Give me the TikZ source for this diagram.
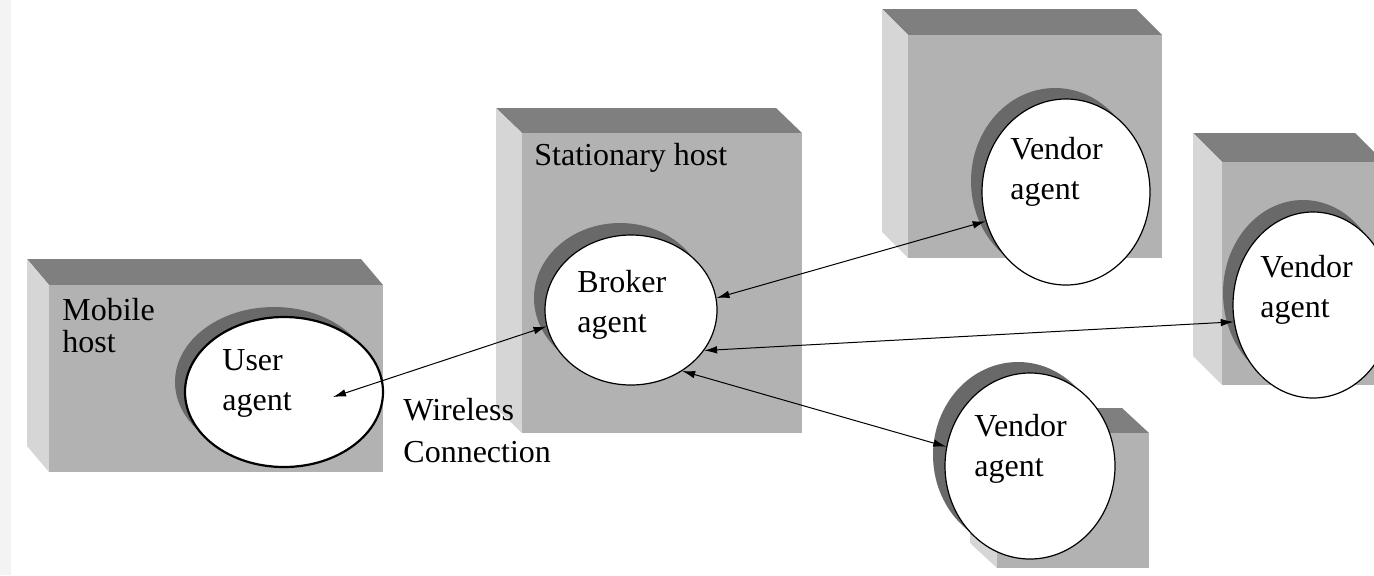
\documentclass[tikz,border=0pt]{standalone}
\usepackage{fontspec}
\setmainfont{Liberation Serif}
\usetikzlibrary{shapes.geometric,arrows.meta}
\definecolor{topface}{HTML}{7F7F7F}
\definecolor{frontface}{HTML}{B2B2B2}
\definecolor{sideface}{HTML}{D6D6D6}
\definecolor{holeshade}{HTML}{696969}
\definecolor{edgestrip}{HTML}{F3F3F3}
% #1 x1, #2 y1, #3 x2, #4 y2 (front face), #5 dx, #6 dy (depth)
\newcommand\hostcube[6]{%
  \fill[topface] (#1-#5,#2-#6) -- (#3-#5,#2-#6) -- (#3,#2) -- (#1,#2) -- cycle;
  \fill[sideface] (#1-#5,#2-#6) -- (#1,#2) -- (#1,#4) -- (#1-#5,#4-#6) -- cycle;
  \fill[frontface] (#1,#2) rectangle (#3,#4);
}
\begin{document}
\begin{tikzpicture}[x=0.5pt, y=-0.5pt,
  font=\fontsize{16}{20}\selectfont,
  hole/.style={ellipse, fill=white, draw=black, line width=0.6pt, inner sep=0pt},
  holeshadow/.style={ellipse, fill=holeshade, inner sep=0pt, outer sep=0pt},
  lbl/.style={anchor=west, align=left, inner sep=0pt},
  link/.style={arrows={Latex[length=6.5pt,width=3.8pt]-Latex[length=6.5pt,width=3.8pt]}, line width=0.5pt}]
\useasboundingbox (0,0) rectangle (1374,575);
\fill[white] (0,0) rectangle (1374,575);
\fill[edgestrip] (0,0) rectangle (11,575);

% hosts
\hostcube{49}{285}{383}{472}{22}{26}
\hostcube{522}{133}{802}{433}{26}{25}
\hostcube{908}{35}{1162}{258}{26}{26}
\hostcube{1222}{162}{1384}{385}{29}{29}
\hostcube{997}{433}{1149}{568}{27}{25}

% agents
\node[holeshadow, minimum width=99pt, minimum height=75pt] (userSh) at (274,382) {};
\node[hole, line width=1.1pt, minimum width=99pt, minimum height=75pt] (user) at (284,392) {};

\node[holeshadow, minimum width=86pt, minimum height=75pt] (brokerSh) at (620,298) {};
\node[hole, minimum width=86pt, minimum height=75pt] (broker) at (631,310) {};

\node[holeshadow, minimum width=84pt, minimum height=93pt] (vendASh) at (1055,181) {};
\node[hole, minimum width=84pt, minimum height=93pt] (vendA) at (1066,192) {};

\node[holeshadow, minimum width=80pt, minimum height=93pt] (vendBSh) at (1303,293) {};
\node[hole, minimum width=80pt, minimum height=93pt] (vendB) at (1313,305) {};

\node[holeshadow, minimum width=85pt, minimum height=93pt] (vendCSh) at (1018,455) {};
\node[hole, minimum width=85pt, minimum height=93pt] (vendC) at (1030,466) {};

% labels
\node[lbl, font=\fontsize{16}{16}\selectfont] (mobileLbl) at (62,326) {Mobile\\host};
\node[lbl] (statLbl) at (534,158) {Stationary host};
\node[lbl] (userLbl) at (222,383) {User\\agent};
\node[lbl] (brokerLbl) at (577,305) {Broker\\agent};
\node[lbl] (vendALbl) at (1010,172) {Vendor\\agent};
\node[lbl] (vendBLbl) at (1260,290) {Vendor\\agent};
\node[lbl] (vendCLbl) at (974,449) {Vendor\\agent};
\node[lbl, font=\fontsize{16}{21}\selectfont] (wireLbl) at (403,431) {Wireless\\Connection};

% connectors
\coordinate (userEnd) at (333,397);
\draw[link] (userEnd) -- (broker.191);
\draw[link] (broker.8) -- (vendA.200);
\draw[link] (broker.-29) -- (vendB.192);
\draw[link] (broker.-50) -- (vendC.167);
\end{tikzpicture}
\end{document}
